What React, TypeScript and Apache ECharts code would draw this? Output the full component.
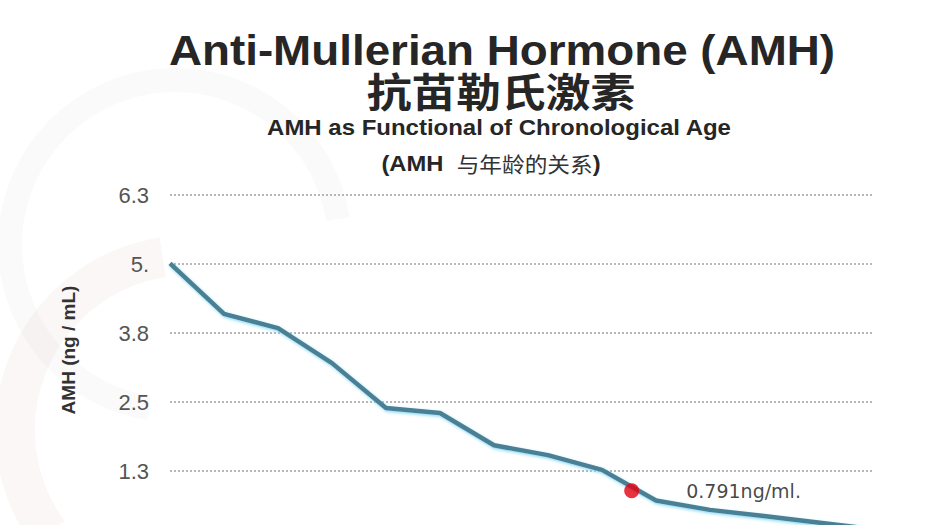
import React, { useEffect, useRef } from "react";
import * as echarts from "echarts";

// ---- data ----
const ages = [20, 22, 24, 26, 28, 30, 32, 34, 36, 38, 40, 42, 44, 46];
const amhValues = [5.05, 4.13, 3.87, 3.23, 2.41, 2.32, 1.73, 1.55, 1.28, 0.72, 0.55, 0.44, 0.32, 0.2];
const markerAge = 37.1;
const markerValue = 0.9;
const markerText = "0.791ng/ml.";
const yTickLabels = ["0", "1.3", "2.5", "3.8", "5.", "6.3"];
const yInterval = 1.26;
const yMax = 6.3;

const titleText = "Anti-Mullerian Hormone (AMH)";
const titleCn = "抗苗勒氏激素";
const subtitleText = "AMH as Functional of Chronological Age";
const subtitleCnA = "(AMH  ";
const subtitleCnB = "与年龄的关系";
const subtitleCnC = ")";
const yAxisName = "AMH (ng / mL)";

const LATIN = "'Liberation Sans', Arial, 'Noto Sans CJK SC', sans-serif";
const CJK = "'Noto Sans CJK SC', 'Liberation Sans', sans-serif";

export default function App() {
  const ref = useRef<HTMLDivElement>(null);

  useEffect(() => {
    if (!ref.current) return;
    const chart = echarts.init(ref.current, null, { renderer: "svg" });
    const option: any = {
      animation: false,
      backgroundColor: "#ffffff",
      grid: { left: 170, width: 702, top: 195, height: 345, containLabel: false },
      xAxis: {
        type: "value",
        min: ages[0],
        max: ages[ages.length - 1],
        show: false,
      },
      yAxis: {
        type: "value",
        min: 0,
        max: yMax,
        interval: yInterval,
        axisLine: { show: false },
        axisTick: { show: false },
        axisLabel: {
          margin: 21,
          fontSize: 22,
          color: "#555555",
          fontFamily: LATIN,
          showMinLabel: false,
          formatter: (v: number) => yTickLabels[Math.round(v / yInterval)] ?? "",
        },
        splitLine: {
          lineStyle: { type: [2, 2], color: "#a0a0a0", width: 1.5 },
        },
      },
      graphic: [
        {
          type: "arc",
          z: -10,
          shape: { cx: 175, cy: 245, r: 165, startAngle: Math.PI * 0.55, endAngle: Math.PI * 1.95 },
          style: { stroke: "rgba(160,160,160,0.05)", lineWidth: 24, fill: "none" },
          silent: true,
        },
        {
          type: "arc",
          z: -10,
          shape: { cx: 190, cy: 430, r: 175, startAngle: Math.PI * 0.8, endAngle: Math.PI * 1.45 },
          style: { stroke: "rgba(200,90,100,0.05)", lineWidth: 40, fill: "none" },
          silent: true,
        },
        {
          type: "text",
          x: 502,
          y: 50,
          scaleX: 1.09,
          style: {
            text: titleText,
            font: `bold 42px ${LATIN}`,
            fill: "#262626",
            textAlign: "center",
            textVerticalAlign: "middle",
          },
        },
        {
          type: "text",
          x: 501,
          y: 90,
          scaleX: 1.12,
          style: {
            text: titleCn,
            font: `bold 40px ${CJK}`,
            fill: "#262626",
            textAlign: "center",
            textVerticalAlign: "middle",
          },
        },
        {
          type: "text",
          x: 499,
          y: 127,
          scaleX: 1.09,
          style: {
            text: subtitleText,
            font: `bold 22px ${LATIN}`,
            fill: "#262626",
            textAlign: "center",
            textVerticalAlign: "middle",
          },
        },
        {
          type: "text",
          x: 491,
          y: 163,
          scaleX: 1.08,
          style: {
            text: `{a|${subtitleCnA}}{b|${subtitleCnB}}{a|${subtitleCnC}}`,
            textAlign: "center",
            textVerticalAlign: "middle",
            rich: {
              a: { fontSize: 22, fontWeight: "bold", fontFamily: LATIN, fill: "#262626", color: "#262626" },
              b: { fontSize: 21, fontWeight: "normal", fontFamily: CJK, fill: "#333333", color: "#333333" },
            },
          },
        },
        {
          type: "text",
          x: 68,
          y: 350,
          rotation: Math.PI / 2,
          style: {
            text: yAxisName,
            font: `bold 19px ${LATIN}`,
            fill: "#333333",
            textAlign: "center",
            textVerticalAlign: "middle",
          },
        },
      ],
      series: [
        {
          type: "line",
          data: ages.map((a, i) => [a, amhValues[i]]),
          symbol: "none",
          lineStyle: {
            color: "#4b7f94",
            width: 4.5,
            shadowColor: "rgba(130,215,245,0.95)",
            shadowBlur: 3,
            shadowOffsetY: 1.5,
            shadowOffsetX: 1,
          },
          z: 2,
        },
        {
          type: "scatter",
          data: [[markerAge, markerValue]],
          symbolSize: 15,
          itemStyle: { color: "#e5000f" },
          z: 3,
          label: {
            show: true,
            position: "right",
            distance: 47,
            formatter: () => markerText,
            fontSize: 19,
            fontFamily: "'DejaVu Sans', Verdana, sans-serif",
            color: "#151515",
          },
        },
      ],
    };
    chart.setOption(option);
    return () => chart.dispose();
  }, []);

  return (
    <div
      ref={ref}
      style={{ position: "fixed", left: 0, top: 0, width: 935, height: 560 }}
    />
  );
}
